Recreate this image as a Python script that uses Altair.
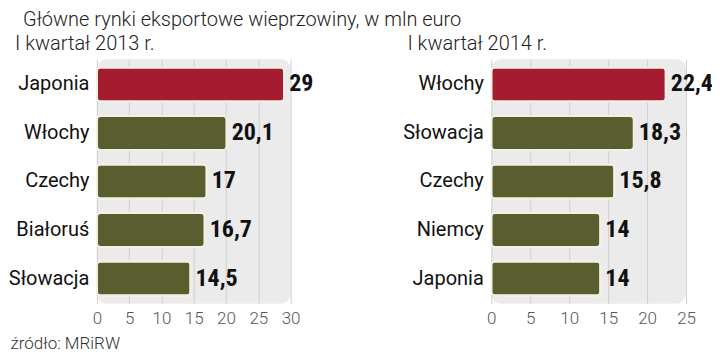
import altair as alt
import pandas as pd

cats_2013 = ["Japonia", "Włochy", "Czechy", "Białoruś", "Słowacja"]
vals_2013 = [29, 20.1, 17, 16.7, 14.5]
cats_2014 = ["Włochy", "Słowacja", "Czechy", "Niemcy", "Japonia"]
vals_2014 = [22.4, 18.3, 15.8, 14, 14]
ticks_2013 = [0, 5, 10, 15, 20, 25, 30]
ticks_2014 = [0, 5, 10, 15, 20, 25]

RED = "#a51c30"
OLIVE = "#5a5e2e"
COND = "Roboto Condensed, Roboto"
SANS = "Roboto"


def fmt(v):
    return f"{v:g}".replace(".", ",")


def panel(cats, vals, ticks, subtitle, width, sub_dx, source=None):
    df = pd.DataFrame({"kraj": cats, "wartosc": vals,
                       "etykieta": [fmt(v) for v in vals]})
    xscale = alt.Scale(domain=[ticks[0], ticks[-1]], nice=False, zero=True)
    yscale = alt.Scale(paddingInner=0.3, paddingOuter=0.17)
    axis_kw = dict(values=ticks, grid=True, gridColor="#d0d0d0", gridWidth=1,
                   domain=False, ticks=False, labelFontSize=17, labelColor="#555",
                   labelPadding=7, labelFont=SANS, labelFontWeight=300,
                   labelOverlap=False, labelFlush=False)
    if source:
        axis_kw.update(title=source, titleX=-87, titleY=45, titleAlign="left",
                       titleBaseline="alphabetic", titleFontSize=17,
                       titleFontWeight=300, titleColor="#333", titleFont=SANS)
    else:
        axis_kw.update(title="")
    xaxis = alt.Axis(**axis_kw)
    yaxis = alt.Axis(title="", domain=False, ticks=False, grid=False,
                     labelFontSize=20, labelColor="#111", labelPadding=8,
                     labelFont=SANS, minExtent=89)
    xenc = alt.X("wartosc:Q", scale=xscale, axis=xaxis)
    yenc = alt.Y("kraj:N", sort=cats, scale=yscale, axis=yaxis)
    base = alt.Chart(df)
    bars = base.mark_bar(cornerRadius=4, stroke="#f3f1e4", strokeWidth=2).encode(
        x=xenc,
        y=yenc,
        color=alt.condition(alt.datum.kraj == cats[0], alt.value(RED), alt.value(OLIVE)),
    )
    text = base.mark_text(align="left", baseline="middle", dx=5, fontSize=24,
                          fontWeight="bold", font=COND, color="#111").encode(
        x=xenc,
        y=yenc,
        text="etykieta:N",
    )
    return alt.layer(bars, text).properties(
        width=width, height=245,
        title=alt.TitleParams(subtitle, anchor="start", frame="group", dx=sub_dx,
                              fontSize=20, fontWeight=300, font=SANS, color="#222",
                              offset=5),
    )


left = panel(cats_2013, vals_2013, ticks_2013, "I kwartał 2013 r.", 194, -82,
             source="źródło: MRiRW")
right = panel(cats_2014, vals_2014, ticks_2014, "I kwartał 2014 r.", 195, -84)

chart = alt.hconcat(left, right, spacing=201, bounds="flush",
                    padding={"top": 2, "left": 0, "right": -1, "bottom": 0}).properties(
    title=alt.TitleParams("Główne rynki eksportowe wieprzowiny, w mln euro",
                          anchor="start", frame="bounds", dx=15, fontSize=20,
                          fontWeight=300, font=SANS, color="#222", offset=4),
).configure_view(fill="#ebebeb", strokeWidth=0, cornerRadius=10)

chart.save("out.html", embed_options={"renderer": "svg", "actions": False})
